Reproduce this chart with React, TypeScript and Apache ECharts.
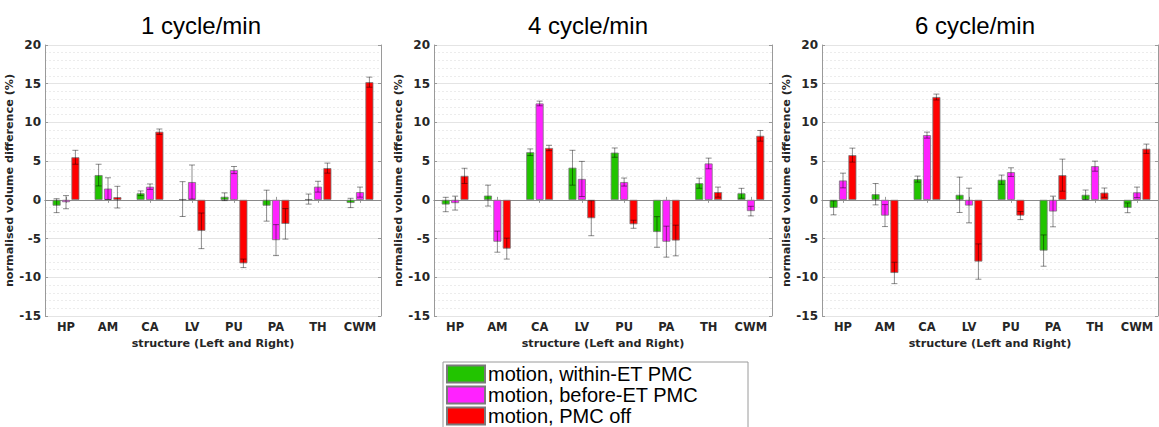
import React, { useEffect, useRef } from "react";
import * as echarts from "echarts";

const categories = ["HP", "AM", "CA", "LV", "PU", "PA", "TH", "CWM"];
const panelTitles = ["1 cycle/min", "4 cycle/min", "6 cycle/min"];
const seriesNames = ["motion, within-ET PMC", "motion, before-ET PMC", "motion, PMC off"];
const seriesColors = ["#22c400", "#ff22ff", "#ff0000"];
const yTicks = { min: -15, max: 20, interval: 5 };

// 1 cycle/min
const p1Within = [-0.75, 3.2, 0.85, 0.1, 0.4, -0.75, 0.1, -0.4];
const p1WithinErr = [0.9, 1.4, 0.3, 2.25, 0.5, 2.0, 0.65, 0.6];
const p1Before = [-0.3, 1.45, 1.7, 2.3, 3.85, -5.2, 1.7, 1.0];
const p1BeforeErr = [0.85, 1.4, 0.35, 2.2, 0.46, 2.0, 0.7, 0.65];
const p1Off = [5.5, 0.35, 8.8, -4.0, -8.2, -3.1, 4.1, 15.2];
const p1OffErr = [0.9, 1.4, 0.35, 2.3, 0.55, 1.97, 0.65, 0.65];

// 4 cycle/min
const p4Within = [-0.6, 0.55, 6.15, 4.15, 6.1, -4.15, 2.15, 0.85];
const p4WithinErr = [0.93, 1.35, 0.43, 2.25, 0.6, 1.98, 0.65, 0.64];
const p4Before = [-0.42, -5.4, 12.45, 2.7, 2.3, -5.4, 4.7, -1.45];
const p4BeforeErr = [0.9, 1.36, 0.3, 2.27, 0.52, 2.0, 0.69, 0.62];
const p4Off = [3.1, -6.3, 6.7, -2.37, -3.15, -5.25, 1.0, 8.27];
const p4OffErr = [0.98, 1.35, 0.35, 2.26, 0.52, 1.98, 0.65, 0.69];

// 6 cycle/min
const p6Within = [-1.03, 0.73, 2.68, 0.65, 2.6, -6.55, 0.65, -1.03];
const p6WithinErr = [0.9, 1.38, 0.39, 2.28, 0.6, 2.02, 0.62, 0.63];
const p6Before = [2.5, -2.03, 8.36, -0.73, 3.58, -1.5, 4.35, 0.97];
const p6BeforeErr = [0.95, 1.42, 0.39, 2.24, 0.56, 1.98, 0.65, 0.68];
const p6Off = [5.78, -9.44, 13.28, -7.97, -2.03, 3.19, 0.93, 6.6];
const p6OffErr = [0.9, 1.38, 0.38, 2.28, 0.52, 2.07, 0.6, 0.6];

const panels = [
  { means: [p1Within, p1Before, p1Off], errs: [p1WithinErr, p1BeforeErr, p1OffErr] },
  { means: [p4Within, p4Before, p4Off], errs: [p4WithinErr, p4BeforeErr, p4OffErr] },
  { means: [p6Within, p6Before, p6Off], errs: [p6WithinErr, p6BeforeErr, p6OffErr] },
];

const grids = [
  { left: 45, top: 45, width: 336, height: 271, titleX: 196 },
  { left: 434, top: 45, width: 338, height: 271, titleX: 583 },
  { left: 822, top: 45, width: 336, height: 271, titleX: 970 },
];

const BAR_W = 8;
const BAR_GAP_PX = 1.4;
const AXIS_COLOR = "#9a9a9a";
const LABEL_FONT = "DejaVu Sans";

export default function App() {
  const ref = useRef<HTMLDivElement>(null);

  useEffect(() => {
    if (!ref.current) return;
    const chart = echarts.init(ref.current, null, { renderer: "svg" });

    const xAxes: any[] = [];
    const yAxes: any[] = [];
    const series: any[] = [];

    grids.forEach((g, gi) => {
      xAxes.push({
        type: "category",
        gridIndex: gi,
        data: categories,
        position: "bottom",
        axisLine: { show: true, lineStyle: { color: AXIS_COLOR } },
        axisTick: { show: true, inside: true, alignWithLabel: true, interval: 0, length: 3, lineStyle: { color: AXIS_COLOR } },
        axisLabel: { interval: 0, color: "#262626", fontFamily: LABEL_FONT, fontWeight: "bold", fontSize: 11.5, margin: 5 },
        name: "structure (Left and Right)",
        nameLocation: "middle",
        nameGap: 19,
        nameTextStyle: { color: "#262626", fontFamily: LABEL_FONT, fontWeight: "bold", fontSize: 11.2 },
        splitLine: { show: false },
      });
      xAxes.push({
        type: "category",
        gridIndex: gi,
        data: categories,
        position: "top",
        axisLine: { show: true, lineStyle: { color: AXIS_COLOR } },
        axisTick: { show: true, inside: true, alignWithLabel: true, interval: 0, length: 3, lineStyle: { color: AXIS_COLOR } },
        axisLabel: { show: false },
        splitLine: { show: false },
      });
      yAxes.push({
        type: "value",
        gridIndex: gi,
        position: "left",
        min: yTicks.min,
        max: yTicks.max,
        interval: yTicks.interval,
        axisLine: { show: true, lineStyle: { color: AXIS_COLOR } },
        axisTick: { show: true, inside: true, length: 3, lineStyle: { color: AXIS_COLOR } },
        axisLabel: { color: "#262626", fontFamily: LABEL_FONT, fontWeight: "bold", fontSize: 12, margin: 4 },
        splitLine: { show: true, lineStyle: { color: "#e4e4e4", width: 1 } },
        minorTick: { show: false, splitNumber: 5 },
        minorSplitLine: { show: true, lineStyle: { color: "#ececec", type: [2, 2], width: 1 } },
        name: "normalised volume difference (%)",
        nameLocation: "middle",
        nameGap: 25,
        nameTextStyle: { color: "#262626", fontFamily: LABEL_FONT, fontWeight: "bold", fontSize: 11.2 },
      });
      yAxes.push({
        type: "value",
        gridIndex: gi,
        position: "right",
        min: yTicks.min,
        max: yTicks.max,
        interval: yTicks.interval,
        axisLine: { show: true, lineStyle: { color: AXIS_COLOR } },
        axisTick: { show: true, inside: true, length: 3, lineStyle: { color: AXIS_COLOR } },
        axisLabel: { show: false },
        splitLine: { show: false },
      });

      const p = panels[gi];
      p.means.forEach((vals, si) => {
        const barSeries: any = {
          type: "bar",
          name: seriesNames[si],
          xAxisIndex: gi * 2,
          yAxisIndex: gi * 2,
          data: vals,
          barWidth: BAR_W,
          barGap: (BAR_GAP_PX / BAR_W) * 100 + "%",
          itemStyle: { color: seriesColors[si], borderColor: "#7a7a7a", borderWidth: 0.8 },
          silent: true,
          z: 2,
        };
        if (si === 0) {
          barSeries.markLine = {
            silent: true,
            symbol: "none",
            label: { show: false },
            lineStyle: { color: "#8a8a8a", type: "solid", width: 1 },
            data: [{ yAxis: 0 }],
            z: 1,
          };
        }
        series.push(barSeries);
      });

      p.means.forEach((vals, si) => {
        const offset = (si - 1) * (BAR_W + BAR_GAP_PX);
        const errs = p.errs[si];
        series.push({
          type: "custom",
          name: "err-" + gi + "-" + si,
          xAxisIndex: gi * 2,
          yAxisIndex: gi * 2,
          silent: true,
          z: 5,
          data: vals.map((v, i) => [i, v, errs[i]]),
          encode: { x: 0, y: 1 },
          renderItem: (params: any, api: any) => {
            const i = api.value(0);
            const m = api.value(1);
            const e = api.value(2);
            const top = api.coord([i, m + e]);
            const bot = api.coord([i, m - e]);
            const x = top[0] + offset;
            const cap = 3;
            const style = { stroke: "rgba(0,0,0,0.45)", lineWidth: 1 };
            return {
              type: "group",
              children: [
                { type: "line", shape: { x1: x, y1: top[1], x2: x, y2: bot[1] }, style },
                { type: "line", shape: { x1: x - cap, y1: top[1], x2: x + cap, y2: top[1] }, style },
                { type: "line", shape: { x1: x - cap, y1: bot[1], x2: x + cap, y2: bot[1] }, style },
              ],
            };
          },
        });
      });
    });

    const option: any = {
      animation: false,
      backgroundColor: "#ffffff",
      title: grids.map((g, gi) => ({
        text: panelTitles[gi],
        left: g.titleX,
        top: 8,
        textAlign: "center",
        textStyle: { fontFamily: "Liberation Sans", fontWeight: "normal", fontSize: 24, color: "#000" },
      })),
      grid: grids.map((g) => ({ left: g.left, top: g.top, width: g.width, height: g.height, containLabel: false })),
      xAxis: xAxes,
      yAxis: yAxes,
      legend: {
        data: seriesNames,
        orient: "vertical",
        left: 446,
        top: 364,
        width: 300,
        height: 120,
        itemWidth: 38,
        itemHeight: 17,
        itemGap: 1,
        padding: 0,
        icon: "rect",
        selectedMode: false,
        textStyle: { fontFamily: "Liberation Sans", fontSize: 20, color: "#000", padding: [0, 0, 0, -2], lineHeight: 18 },
        z: 10,
      },
      graphic: [
        {
          type: "rect",
          z: 0,
          silent: true,
          shape: { x: 443, y: 362, width: 305, height: 90 },
          style: { fill: "#ffffff", stroke: "#9a9a9a", lineWidth: 1 },
        },
      ],
      series,
    };

    chart.setOption(option);
    return () => chart.dispose();
  }, []);

  return (
    <div
      ref={ref}
      style={{ position: "absolute", left: 0, top: 0, width: 1159, height: 427 }}
    />
  );
}
